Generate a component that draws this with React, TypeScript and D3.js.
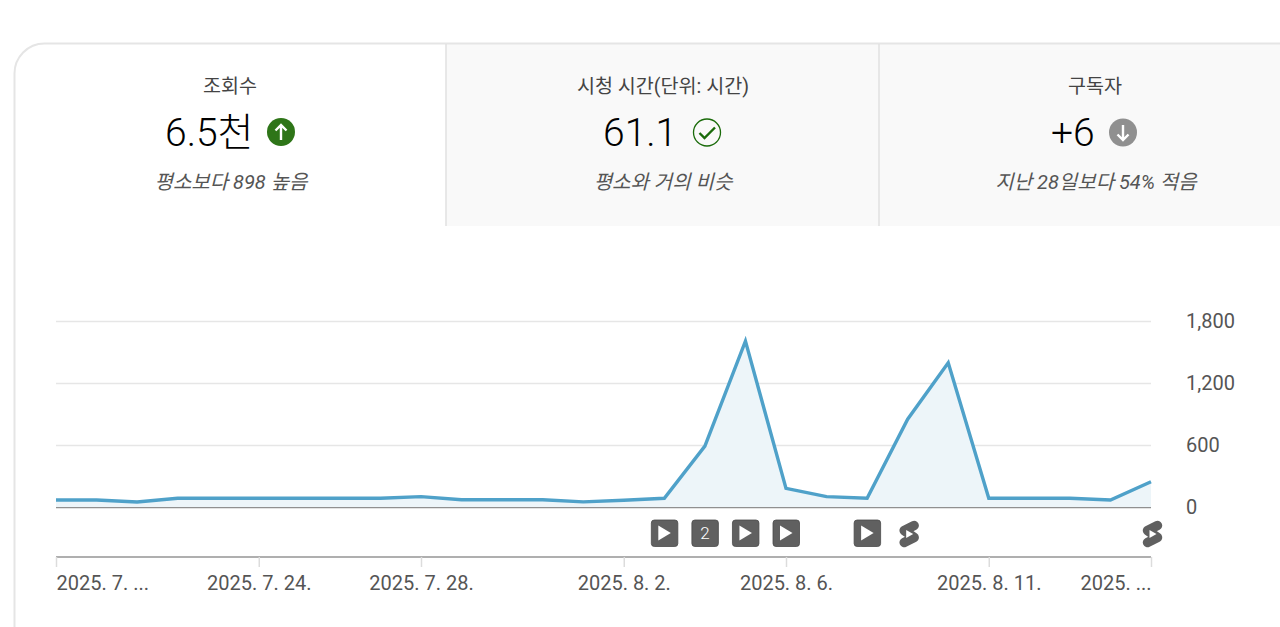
import React, { useEffect, useRef } from 'react';
import * as d3 from 'd3';

const dates = [
  '7.19', '7.20', '7.21', '7.22', '7.23', '7.24', '7.25', '7.26', '7.27', '7.28',
  '7.29', '7.30', '7.31', '8.1', '8.2', '8.3', '8.4', '8.5', '8.6', '8.7',
  '8.8', '8.9', '8.10', '8.11', '8.12', '8.13', '8.14', '8.15',
];
const views = [
  68, 68, 48, 85, 85, 85, 85, 85, 85, 100,
  70, 70, 70, 50, 65, 85, 590, 1605, 180, 100,
  85, 850, 1395, 85, 85, 85, 68, 245,
];
const yTicks = [0, 600, 1200, 1800];
const xTickDates = ['7.19', '7.24', '7.28', '8.2', '8.6', '8.11', '8.15'];
const xTickLabels = ['2025. 7. ...', '2025. 7. 24.', '2025. 7. 28.', '2025. 8. 2.', '2025. 8. 6.', '2025. 8. 11.', '2025. ...'];
const videoMarkers = ['8.3', '8.5', '8.6', '8.8'];
const countMarkers = [{ date: '8.4', label: '2' }];
const shortsMarkers = ['8.9', '8.15'];

const tabTitles = ['조회수', '시청 시간(단위: 시간)', '구독자'];
const tabValues = ['6.5천', '61.1', '+6'];
const tabNotes = ['평소보다 898 높음', '평소와 거의 비슷', '지난 28일보다 54%  적음'];

const FONT = 'Roboto, "Noto Sans CJK KR", sans-serif';

export default function App() {
  const ref = useRef<SVGSVGElement>(null);

  useEffect(() => {
    const svg = d3.select(ref.current);
    svg.selectAll('*').remove();

    // stat cards on top
    const tabs = svg.append('g');
    tabs
      .append('path')
      .attr('d', 'M446 226V44H1280V226Z')
      .attr('fill', '#f9f9f9');
    tabs
      .append('path')
      .attr('d', 'M14.5 627V74A30 30 0 0 1 44.5 43.5H1280')
      .attr('fill', 'none')
      .attr('stroke', '#e5e5e5')
      .attr('stroke-width', 2);
    tabs
      .selectAll('line')
      .data([446, 879])
      .enter()
      .append('line')
      .attr('x1', (d) => d)
      .attr('x2', (d) => d)
      .attr('y1', 44)
      .attr('y2', 226)
      .attr('stroke', '#e0e0e0')
      .attr('stroke-width', 1.5);

    const centers = [230, 663, 1095];
    tabs
      .selectAll('text.title')
      .data(tabTitles)
      .enter()
      .append('text')
      .attr('class', 'title')
      .attr('x', (d, i) => centers[i])
      .attr('y', 93)
      .attr('text-anchor', 'middle')
      .attr('font-size', 19.6)
      .attr('fill', '#444')
      .text((d) => d);
    tabs
      .selectAll('text.value')
      .data(tabValues)
      .enter()
      .append('text')
      .attr('class', 'value')
      .attr('x', (d, i) => [165, 603, 1051][i])
      .attr('y', 146)
      .attr('font-size', 39)
      .attr('font-weight', 300)
      .attr('fill', '#000')
      .text((d) => d);
    tabs
      .selectAll('text.note')
      .data(tabNotes)
      .enter()
      .append('text')
      .attr('class', 'note')
      .attr('x', (d, i) => [231, 663, 1096][i])
      .attr('y', 189)
      .attr('text-anchor', 'middle')
      .attr('font-size', 20)
      .attr('font-style', 'italic')
      .attr('fill', '#555')
      .text((d) => d);

    // status icons
    tabs.append('circle').attr('cx', 281).attr('cy', 132).attr('r', 14).attr('fill', '#2e7518');
    tabs
      .append('path')
      .attr('d', 'M281 140V125M275.5 130.5L281 125L286.5 130.5')
      .attr('fill', 'none')
      .attr('stroke', '#fff')
      .attr('stroke-width', 2.4);
    tabs
      .append('circle')
      .attr('cx', 707)
      .attr('cy', 132.5)
      .attr('r', 13.5)
      .attr('fill', 'none')
      .attr('stroke', '#1a6b0a')
      .attr('stroke-width', 1.3);
    tabs
      .append('path')
      .attr('d', 'M699.5 133L704.5 138L715 127.5')
      .attr('fill', 'none')
      .attr('stroke', '#1a6b0a')
      .attr('stroke-width', 2.4);
    tabs.append('circle').attr('cx', 1123).attr('cy', 132.5).attr('r', 14).attr('fill', '#909090');
    tabs
      .append('path')
      .attr('d', 'M1123 125V140M1117.5 134.5L1123 140L1128.5 134.5')
      .attr('fill', 'none')
      .attr('stroke', '#fff')
      .attr('stroke-width', 2.4);

    // chart
    const xScale = d3.scalePoint<string>().domain(dates).range([56, 1151]);
    const yScale = d3.scaleLinear().domain([0, 1800]).range([507, 321]);
    const xPos = (d: string) => xScale(d) as number;

    const yAxis = svg
      .append('g')
      .attr('transform', 'translate(1151, 0)')
      .call(
        d3
          .axisRight(yScale)
          .tickValues(yTicks)
          .tickSize(-1095)
          .tickPadding(35)
          .tickFormat(d3.format(','))
      );
    yAxis.select('.domain').remove();
    yAxis.selectAll('.tick line').attr('stroke', '#e6e6e6').attr('stroke-width', 1.5);
    yAxis
      .selectAll('.tick text')
      .attr('font-family', FONT)
      .attr('font-size', 20)
      .attr('fill', '#555');
    yAxis
      .selectAll('.tick')
      .filter((d) => d === 0)
      .select('line')
      .attr('stroke', '#909090');

    const area = d3
      .area<number>()
      .x((d, i) => xPos(dates[i]))
      .y0(yScale(0))
      .y1((d) => yScale(d));
    const line = d3
      .line<number>()
      .x((d, i) => xPos(dates[i]))
      .y((d) => yScale(d));

    svg.append('path').datum(views).attr('d', area).attr('fill', '#edf5f9');
    svg
      .append('path')
      .datum(views)
      .attr('d', line)
      .attr('fill', 'none')
      .attr('stroke', '#4fa1c9')
      .attr('stroke-width', 3.4)
      .attr('stroke-linejoin', 'miter');

    // time axis
    const xAxis = svg
      .append('g')
      .attr('transform', 'translate(0, 557)')
      .call(
        d3
          .axisBottom(xScale)
          .tickValues(xTickDates)
          .tickSize(10)
          .tickPadding(9)
          .tickFormat((d, i) => xTickLabels[i])
      );
    xAxis
      .select('.domain')
      .attr('d', 'M56 0H1151')
      .attr('stroke', '#606060')
      .attr('stroke-width', 1.2);
    xAxis.selectAll('.tick line').attr('stroke', '#dcdcdc').attr('stroke-width', 1.5);
    xAxis
      .selectAll('.tick text')
      .attr('font-family', FONT)
      .attr('font-size', 20)
      .attr('fill', '#555')
      .attr('text-anchor', (d, i) => (i === 0 ? 'start' : i === xTickDates.length - 1 ? 'end' : 'middle'));

    // upload markers
    const markerY = 533;
    const boxes = svg
      .selectAll('g.video')
      .data([...videoMarkers, ...countMarkers.map((d) => d.date)])
      .enter()
      .append('g')
      .attr('class', 'video')
      .attr('transform', (d) => `translate(${xPos(d)}, ${markerY})`);
    boxes
      .append('rect')
      .attr('x', -13)
      .attr('y', -13)
      .attr('width', 26.5)
      .attr('height', 26.5)
      .attr('rx', 3)
      .attr('fill', '#606060')
      .attr('stroke', '#4a4a4a')
      .attr('stroke-width', 0.8);
    boxes
      .filter((d) => videoMarkers.includes(d))
      .append('path')
      .attr('d', 'M-6 -7.5L6.5 0L-6 7.5Z')
      .attr('fill', '#fff');
    boxes
      .filter((d) => !videoMarkers.includes(d))
      .append('text')
      .attr('text-anchor', 'middle')
      .attr('y', 6)
      .attr('font-family', FONT)
      .attr('font-size', 17)
      .attr('font-weight', 300)
      .attr('fill', '#fff')
      .text(countMarkers[0].label);

    const shorts = svg
      .selectAll('g.shorts')
      .data(shortsMarkers)
      .enter()
      .append('g')
      .attr('class', 'shorts')
      .attr('transform', (d) => `translate(${xPos(d) + 1.5}, ${markerY + 1})`);
    shorts
      .append('path')
      .attr('d', 'M5 -8.5L-5 -3.5M5 3.5L-5 8.5M-5 -3.5L5 3.5')
      .attr('fill', 'none')
      .attr('stroke', '#606060')
      .attr('stroke-width', 9.5)
      .attr('stroke-linecap', 'round');
    shorts.append('path').attr('d', 'M-3 -4L4 0L-3 4Z').attr('fill', '#fff');
  }, []);

  return (
    <svg
      ref={ref}
      width={1280}
      height={627}
      style={{ position: 'absolute', left: 0, top: 0, fontFamily: FONT, background: '#fff' }}
    />
  );
}
